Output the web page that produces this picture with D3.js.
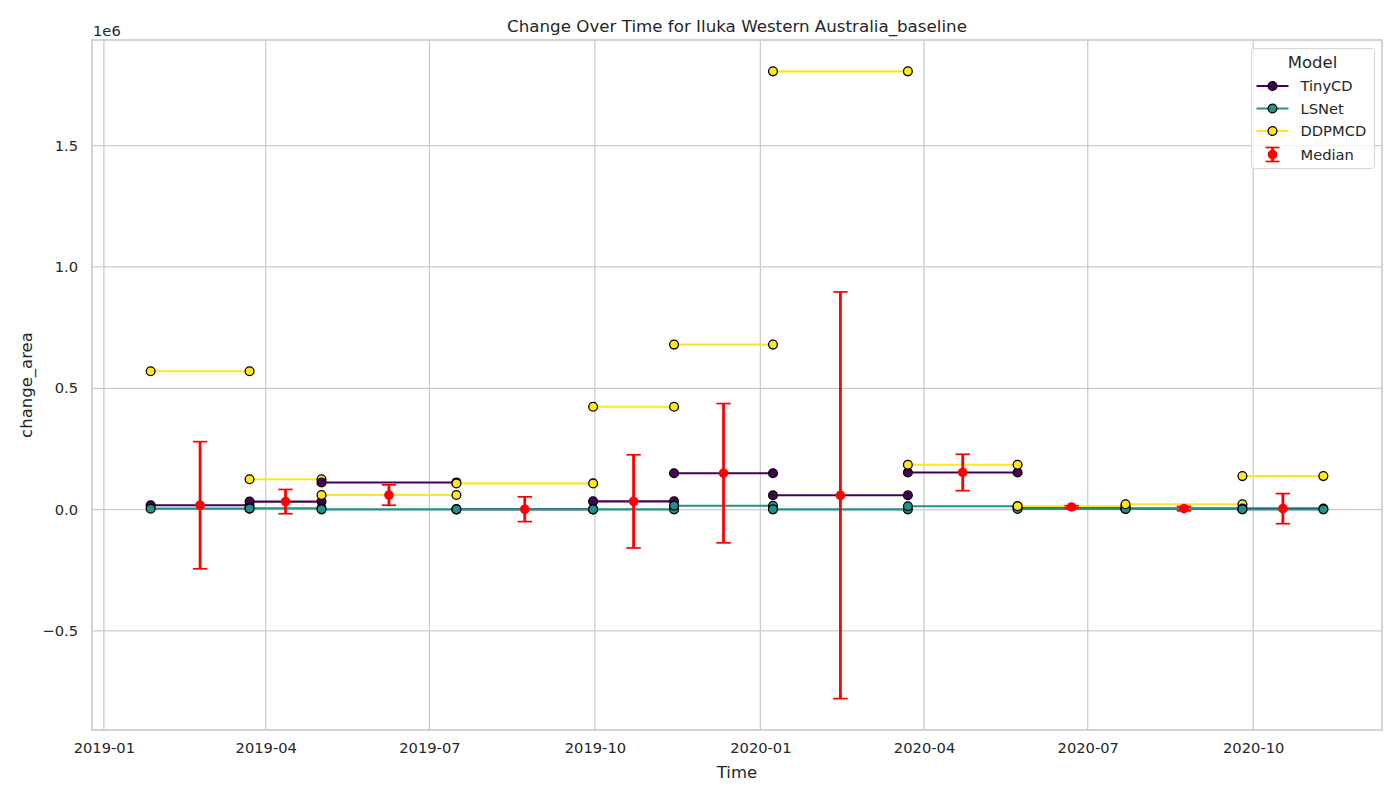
<!DOCTYPE html>
<html>
<head>
<meta charset="utf-8">
<script src="https://cdn.jsdelivr.net/npm/d3@7"></script>
<style>
  body { margin: 0; background: #fff; }
  text { font-family: "DejaVu Sans", sans-serif; fill: #262626; }
</style>
</head>
<body>
<div id="chart"></div>
<script>
// interval boundaries (each interval runs from dates[i] to dates[i+1])
var dates = ['2019-01-27', '2019-03-23', '2019-05-02', '2019-07-16', '2019-09-30', '2019-11-14',
             '2020-01-08', '2020-03-23', '2020-05-23', '2020-07-22', '2020-09-25', '2020-11-09'];

var models = ['TinyCD', 'LSNet', 'DDPMCD'];
var modelColors = ['#440154', '#21918c', '#fde725'];

// change_area per interval, one array per model
var tinyCD = [18000, 33000, 112000, 1500, 34000, 150000, 59000, 153000, 11000, 4000, 4000];
var lsNet  = [4000, 5000, 1000, 1000, 1000, 16000, 1000, 14000, 3000, 3000, 1000];
var ddpmcd = [570000, 125000, 60000, 108000, 424000, 680000, 1806000, 185000, 14000, 22000, 138000];

// median of the models per interval and its error bar half-length
var medianVals = [18000, 33000, 60000, 1500, 34000, 150000, 59000, 153000, 11000, 4000, 4000];
var medianErr  = [262000, 50000, 42000, 51000, 192000, 287000, 838000, 75000, 5000, 9000, 62000];

var yTicks = [-0.5e6, 0, 0.5e6, 1e6, 1.5e6];

var W = 1400, H = 800;
var margin = { top: 40, right: 18, bottom: 70, left: 92 };
var width = W - margin.left - margin.right;
var height = H - margin.top - margin.bottom;

var parse = d3.timeParse('%Y-%m-%d');
var dateObjs = dates.map(parse);
var series = [tinyCD, lsNet, ddpmcd];

var svg = d3.select('#chart').append('svg')
    .attr('width', W)
    .attr('height', H);

var g = svg.append('g')
    .attr('transform', 'translate(' + margin.left + ',' + margin.top + ')');

// matplotlib-like 5% padding around the data
var t0 = dateObjs[0], t1 = dateObjs[dateObjs.length - 1];
var tPad = (t1 - t0) * 0.05;
var x = d3.scaleTime()
    .domain([new Date(+t0 - tPad), new Date(+t1 + tPad)])
    .range([0, width]);

var yMin = d3.min(medianVals.map((m, i) => m - medianErr[i]));
var yMax = d3.max([d3.max(ddpmcd), d3.max(medianVals.map((m, i) => m + medianErr[i]))]);
var yPad = (yMax - yMin) * 0.05;
var y = d3.scaleLinear()
    .domain([yMin - yPad, yMax + yPad])
    .range([height, 0]);

var xTicks = x.ticks(d3.timeMonth.every(3));

// grid
g.append('g').selectAll('line.gx')
    .data(xTicks).enter().append('line')
    .attr('x1', d => x(d)).attr('x2', d => x(d))
    .attr('y1', 0).attr('y2', height)
    .style('stroke', '#cccccc').style('stroke-width', '1.3px');
g.append('g').selectAll('line.gy')
    .data(yTicks).enter().append('line')
    .attr('x1', 0).attr('x2', width)
    .attr('y1', d => y(d)).attr('y2', d => y(d))
    .style('stroke', '#cccccc').style('stroke-width', '1.3px');

// axes (labels only, whitegrid style)
var xAxis = g.append('g')
    .attr('transform', 'translate(0,' + height + ')')
    .call(d3.axisBottom(x).tickValues(xTicks).tickFormat(d3.timeFormat('%Y-%m')).tickSize(0).tickPadding(13));
var yAxis = g.append('g')
    .call(d3.axisLeft(y).tickValues(yTicks).tickFormat(d => d3.format('.1f')(d / 1e6)).tickSize(0).tickPadding(14));
[xAxis, yAxis].forEach(function(a) {
    a.select('.domain').remove();
    a.selectAll('text').style('font-size', '14.7px').style('font-family', '"DejaVu Sans", sans-serif').style('fill', '#262626');
});

// spines
g.append('rect')
    .attr('x', 0).attr('y', 0)
    .attr('width', width).attr('height', height)
    .style('fill', 'none')
    .style('stroke', '#cccccc')
    .style('stroke-width', '1.7px');

// segments, drawn interval by interval
for (var i = 0; i < dates.length - 1; i++) {
    for (var m = 0; m < models.length; m++) {
        var v = series[m][i];
        var pts = [[dateObjs[i], v], [dateObjs[i + 1], v]];
        var seg = g.append('g').attr('class', 'seg-' + m + '-' + i);
        seg.append('path')
            .attr('d', d3.line().x(d => x(d[0])).y(d => y(d[1]))(pts))
            .style('fill', 'none')
            .style('stroke', modelColors[m])
            .style('stroke-width', '2.1px');
        seg.selectAll('circle')
            .data(pts).enter().append('circle')
            .attr('cx', d => x(d[0]))
            .attr('cy', d => y(d[1]))
            .attr('r', 4.4)
            .style('fill', modelColors[m])
            .style('stroke', '#000')
            .style('stroke-width', '1.3px');
    }
}

// median with error bars
var mids = dateObjs.slice(0, -1).map((d, i) => new Date((+d + +dateObjs[i + 1]) / 2));
var med = g.append('g').selectAll('g')
    .data(medianVals.map((v, i) => ({ t: mids[i], v: v, e: medianErr[i] })))
    .enter().append('g');
med.append('line')
    .attr('x1', d => x(d.t)).attr('x2', d => x(d.t))
    .attr('y1', d => y(d.v - d.e)).attr('y2', d => y(d.v + d.e))
    .style('stroke', 'red').style('stroke-width', '2.8px');
med.each(function(d) {
    var s = d3.select(this);
    [d.v - d.e, d.v + d.e].forEach(function(c) {
        s.append('line')
            .attr('x1', x(d.t) - 7.2).attr('x2', x(d.t) + 7.2)
            .attr('y1', y(c)).attr('y2', y(c))
            .style('stroke', 'red').style('stroke-width', '1.7px');
    });
});
med.append('circle')
    .attr('cx', d => x(d.t)).attr('cy', d => y(d.v))
    .attr('r', 4.8)
    .style('fill', 'red');

// titles
svg.append('text')
    .attr('x', margin.left + width / 2).attr('y', 32)
    .attr('text-anchor', 'middle')
    .style('font-size', '16.7px')
    .text('Change Over Time for Iluka Western Australia_baseline');
svg.append('text')
    .attr('x', margin.left + width / 2).attr('y', 778)
    .attr('text-anchor', 'middle')
    .style('font-size', '16.5px')
    .text('Time');
svg.append('text')
    .attr('transform', 'translate(32,' + (margin.top + height / 2) + ') rotate(-90)')
    .attr('text-anchor', 'middle')
    .style('font-size', '16.5px')
    .text('change_area');
svg.append('text')
    .attr('x', 93).attr('y', 36)
    .style('font-size', '14.7px')
    .text('1e6');

// legend
var lg = svg.append('g').attr('transform', 'translate(1251.5,48.5)');
lg.append('rect')
    .attr('width', 123).attr('height', 120)
    .attr('rx', 3)
    .style('fill', 'rgba(255,255,255,0.8)')
    .style('stroke', '#d6d6d6')
    .style('stroke-width', '1px');
lg.append('text')
    .attr('x', 61).attr('y', 19)
    .attr('text-anchor', 'middle')
    .style('font-size', '16.5px')
    .text('Model');
var rowY = [37.5, 60, 82.5];
models.forEach(function(name, k) {
    var row = lg.append('g').attr('transform', 'translate(0,' + rowY[k] + ')');
    row.append('line')
        .attr('x1', 5).attr('x2', 37)
        .style('stroke', modelColors[k]).style('stroke-width', '2.1px');
    row.append('circle')
        .attr('cx', 21).attr('r', 4.4)
        .style('fill', modelColors[k]).style('stroke', '#000').style('stroke-width', '1.3px');
    row.append('text')
        .attr('x', 49).attr('dy', '0.36em')
        .style('font-size', '14.7px')
        .text(name);
});
var mrow = lg.append('g').attr('transform', 'translate(0,106)');
mrow.append('line').attr('x1', 21).attr('x2', 21).attr('y1', -7).attr('y2', 7)
    .style('stroke', 'red').style('stroke-width', '2.8px');
[-7, 7].forEach(function(c) {
    mrow.append('line').attr('x1', 14).attr('x2', 28).attr('y1', c).attr('y2', c)
        .style('stroke', 'red').style('stroke-width', '1.7px');
});
mrow.append('circle').attr('cx', 21).attr('r', 4.8).style('fill', 'red');
mrow.append('text')
    .attr('x', 49).attr('dy', '0.36em')
    .style('font-size', '14.7px')
    .text('Median');
</script>
</body>
</html>
